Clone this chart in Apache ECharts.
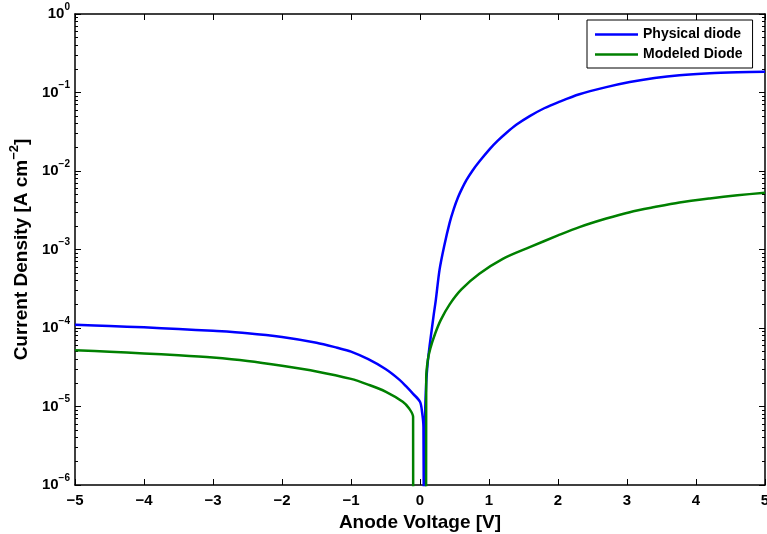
<!DOCTYPE html>
<html><head><meta charset="utf-8">
<script src="https://cdn.jsdelivr.net/npm/echarts@6/dist/echarts.min.js"></script>
<style>html,body{margin:0;padding:0;background:#fff}#c{width:767px;height:534px}</style>
</head><body><div id="c"></div>
<script>
// Physical diode: anode voltage [V] and |current density| [A cm^-2]
const physV = [-5, -4.5, -4, -3.5, -3, -2.5, -2, -1.5, -1.2, -1, -0.75, -0.5, -0.3, -0.2, -0.1, 0, 0.03, 0.05, 0.065,
  0.075, 0.09, 0.11, 0.14, 0.17, 0.2, 0.23, 0.283, 0.35, 0.43, 0.49, 0.55, 0.61, 0.67, 0.76, 0.86, 1.01, 1.12, 1.25, 1.4, 1.59, 1.8, 2.0, 2.31,
  2.7, 3.04, 3.4, 3.76, 4.2, 4.6, 5.0];
const physJ = [1.1e-4, 1.06e-4, 1.02e-4, 9.7e-5, 9.2e-5, 8.6e-5, 7.7e-5, 6.5e-5, 5.6e-5, 5.0e-5, 4.0e-5, 3.0e-5, 2.2e-5, 1.8e-5, 1.45e-5, 1.15e-5, 8.5e-6, 5.5e-6, 1e-10,
  8e-6, 2.0e-5, 3.5e-5, 6e-5, 9.5e-5, 1.5e-4, 2.3e-4, 5.5e-4, 1.1e-3, 2.2e-3, 3.3e-3, 4.6e-3, 6.0e-3, 7.6e-3, 1.01e-2, 1.32e-2, 1.9e-2, 2.4e-2, 3.05e-2, 3.9e-2, 5.0e-2, 6.3e-2, 7.5e-2, 9.5e-2,
  0.117, 0.136, 0.153, 0.166, 0.176, 0.181, 0.184];
// Modeled diode
const modV = [-5, -4.5, -4, -3.5, -3, -2.5, -2, -1.5, -1, -0.75, -0.5, -0.25, -0.16, -0.1, -0.095,
  0.085, 0.09, 0.113, 0.15, 0.22, 0.3, 0.43, 0.6, 0.86, 1.2, 1.59, 2.0, 2.31, 2.7, 3.04, 3.4, 3.76, 4.2, 4.6, 5.0];
const modJ = [5.2e-5, 5.0e-5, 4.75e-5, 4.5e-5, 4.2e-5, 3.8e-5, 3.3e-5, 2.8e-5, 2.25e-5, 1.9e-5, 1.55e-5, 1.15e-5, 9.5e-6, 7.4e-6, 1e-10,
  1e-10, 2.3e-5, 3.9e-5, 5.5e-5, 8.5e-5, 1.26e-4, 2.0e-4, 3.1e-4, 4.9e-4, 7.6e-4, 1.07e-3, 1.51e-3, 1.93e-3, 2.48e-3, 2.99e-3, 3.47e-3, 3.97e-3, 4.47e-3, 4.9e-3, 5.3e-3];

const xTicks = [-5, -4, -3, -2, -1, 0, 1, 2, 3, 4, 5];
const yTicks = [1e-6, 1e-5, 1e-4, 1e-3, 1e-2, 1e-1, 1];
const yMinor = [];
for (let e = -6; e < 0; e++) for (let k = 2; k <= 9; k++) yMinor.push(parseFloat((k * Math.pow(10, e)).toPrecision(3)));

const FF = 'Liberation Sans';
const BLK = '#000';
const minus = s => String(s).replace('-', '\u2212');

const physData = physV.map((v, i) => [v, physJ[i]]);
const modData = modV.map((v, i) => [v, modJ[i]]);

function yAxisCfg(pos, minor, labels) {
  return {
    type: 'log', logBase: 10, min: 1e-6, max: 1, position: pos,
    axisLine: { show: !minor, onZero: false, lineStyle: { color: BLK, width: 1.5 } },
    axisTick: { show: true, inside: true, length: minor ? 3 : 6, customValues: minor ? yMinor : yTicks,
      lineStyle: { color: BLK, width: 1 } },
    axisLabel: labels ? {
      show: true, customValues: yTicks, margin: 5,
      formatter: v => { const e = Math.round(Math.log10(v)); return '{b|10}{s|' + minus(e) + '}'; },
      rich: {
        b: { fontSize: 15, fontWeight: 'bold', fontFamily: FF, color: BLK },
        s: { fontSize: 10, fontWeight: 'bold', fontFamily: FF, color: BLK, padding: [0, 0, 14, 0] }
      }
    } : { show: false },
    splitLine: { show: false },
    minorTick: { show: false }
  };
}

const ya0 = yAxisCfg('left', false, true);
ya0.name = '{n|Current Density [A cm}{s|\u22122}{n|]}';
ya0.nameLocation = 'middle';
ya0.nameRotate = 90;
ya0.nameGap = 37;
ya0.nameTextStyle = {
  rich: {
    n: { fontSize: 19, fontWeight: 'bold', fontFamily: FF, color: BLK },
    s: { fontSize: 13, fontWeight: 'bold', fontFamily: FF, color: BLK, padding: [0, 0, 14, 0] }
  }
};

function xAxisCfg(pos, labels) {
  return {
    type: 'value', min: -5, max: 5, interval: 1, position: pos,
    axisLine: { show: true, onZero: false, lineStyle: { color: BLK, width: 1.5 } },
    axisTick: { show: true, inside: true, length: 6, lineStyle: { color: BLK, width: 1 } },
    axisLabel: labels ? { show: true, margin: 8, fontSize: 15, fontWeight: 'bold', fontFamily: FF, color: BLK,
      formatter: v => minus(v) } : { show: false },
    splitLine: { show: false }
  };
}
const xa0 = xAxisCfg('bottom', true);
xa0.name = 'Anode Voltage [V]';
xa0.nameLocation = 'middle';
xa0.nameGap = 24;
xa0.nameTextStyle = { fontSize: 19, fontWeight: 'bold', fontFamily: FF, color: BLK };

const chart = echarts.init(document.getElementById('c'), null, { renderer: 'canvas' });
chart.setOption({
  animation: false,
  backgroundColor: '#fff',
  grid: { left: 75, right: 2, top: 14, bottom: 49, containLabel: false, outerBoundsMode: 'none' },
  xAxis: [xa0, xAxisCfg('top', false)],
  yAxis: [ya0, yAxisCfg('left', true, false), yAxisCfg('right', false, false), yAxisCfg('right', true, false)],
  legend: {
    orient: 'vertical', left: 587, top: 20,
    backgroundColor: '#fff', borderColor: BLK, borderWidth: 1,
    padding: [6, 10, 5, 8], itemGap: 3, itemWidth: 43, itemHeight: 2.5, icon: 'rect',
    textStyle: { fontSize: 14, fontWeight: 'bold', fontFamily: FF, color: BLK, lineHeight: 17 },
    data: ['Physical diode', 'Modeled Diode']
  },
  series: [
    { name: 'Physical diode', type: 'line', data: physData, symbol: 'none', smooth: 0.3,
      clip: true, lineStyle: { color: '#0000ff', width: 2.5 }, itemStyle: { color: '#0000ff' } },
    { name: 'Modeled Diode', type: 'line', data: modData, symbol: 'none', smooth: 0.3,
      clip: true, lineStyle: { color: '#008000', width: 2.5 }, itemStyle: { color: '#008000' } }
  ]
});
</script></body></html>
